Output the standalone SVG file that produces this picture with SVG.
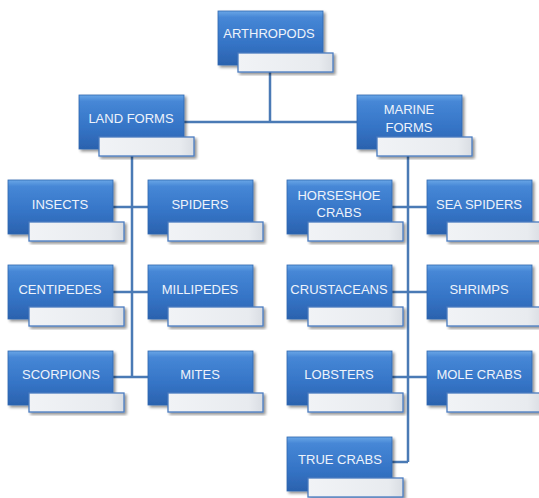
<svg xmlns="http://www.w3.org/2000/svg" width="539" height="498" viewBox="0 0 539 498">
<defs>
<linearGradient id="blue" x1="0" y1="0" x2="0" y2="1">
<stop offset="0" stop-color="#6aa6e6"/>
<stop offset="0.12" stop-color="#4687d6"/>
<stop offset="0.6" stop-color="#3574c6"/>
<stop offset="1" stop-color="#2b62ae"/>
</linearGradient>
<linearGradient id="lab" x1="0" y1="0" x2="1" y2="0">
<stop offset="0" stop-color="#f1f3f6"/>
<stop offset="0.85" stop-color="#e8ebef"/>
<stop offset="1" stop-color="#d9dde3"/>
</linearGradient>
<filter id="sh" x="-10%" y="-10%" width="125%" height="130%">
<feGaussianBlur in="SourceAlpha" stdDeviation="1.5"/>
<feOffset dx="1.5" dy="2" result="b"/>
<feComponentTransfer><feFuncA type="linear" slope="0.45"/></feComponentTransfer>
<feMerge><feMergeNode/><feMergeNode in="SourceGraphic"/></feMerge>
</filter>
</defs>
<style>
.box{fill:url(#blue);stroke:#2f66b0;stroke-width:0.8;filter:url(#sh)}
.lab{fill:url(#lab);stroke:#4a7cc0;stroke-width:1.3;filter:url(#sh)}
.t{font-family:"Liberation Sans",Arial,sans-serif;font-size:13px;fill:#eef3fb;text-anchor:middle}
.c{fill:none;stroke:#4a7ab5;stroke-width:2.5}
</style>
<rect width="539" height="498" fill="#ffffff"/>
<g id="connectors">
<path class="c" d="M270 70V122M183 122H357"/>
<path class="c" d="M132 155V377M113 207H148M113 292H148M113 377H148"/>
<path class="c" d="M408 155V462M392 207H427M392 292H427M392 377H427M392 462H408"/>
</g>
<g id="arthropods"><rect class="box" x="218" y="11" width="105" height="54"/><rect class="lab" x="238" y="53" width="95" height="19"/><text class="t" x="269" y="38">ARTHROPODS</text></g>
<g id="land-forms"><rect class="box" x="79" y="95" width="105" height="54"/><rect class="lab" x="99" y="137" width="95" height="19"/><text class="t" x="131" y="123">LAND FORMS</text></g>
<g id="marine-forms"><rect class="box" x="357" y="95" width="105" height="54"/><rect class="lab" x="377" y="137" width="95" height="19"/><text class="t" x="409" y="114">MARINE</text><text class="t" x="409" y="132">FORMS</text></g>
<g id="insects"><rect class="box" x="8" y="180" width="105" height="54"/><rect class="lab" x="29" y="222" width="95" height="19"/><text class="t" x="60" y="209">INSECTS</text></g>
<g id="spiders"><rect class="box" x="148" y="180" width="105" height="54"/><rect class="lab" x="168" y="222" width="95" height="19"/><text class="t" x="200" y="209">SPIDERS</text></g>
<g id="centipedes"><rect class="box" x="8" y="265" width="105" height="54"/><rect class="lab" x="29" y="307" width="95" height="19"/><text class="t" x="60" y="294">CENTIPEDES</text></g>
<g id="millipedes"><rect class="box" x="148" y="265" width="105" height="54"/><rect class="lab" x="168" y="307" width="95" height="19"/><text class="t" x="200" y="294">MILLIPEDES</text></g>
<g id="scorpions"><rect class="box" x="8" y="351" width="105" height="54"/><rect class="lab" x="29" y="393" width="95" height="19"/><text class="t" x="61" y="379">SCORPIONS</text></g>
<g id="mites"><rect class="box" x="148" y="351" width="105" height="54"/><rect class="lab" x="168" y="393" width="95" height="19"/><text class="t" x="200" y="379">MITES</text></g>
<g id="horseshoe-crabs"><rect class="box" x="287" y="180" width="105" height="54"/><rect class="lab" x="308" y="222" width="95" height="19"/><text class="t" x="339" y="200">HORSESHOE</text><text class="t" x="339" y="217">CRABS</text></g>
<g id="sea-spiders"><rect class="box" x="427" y="180" width="105" height="54"/><rect class="lab" x="447" y="222" width="95" height="19"/><text class="t" x="479" y="209">SEA SPIDERS</text></g>
<g id="crustaceans"><rect class="box" x="287" y="265" width="105" height="54"/><rect class="lab" x="308" y="307" width="95" height="19"/><text class="t" x="339" y="294">CRUSTACEANS</text></g>
<g id="shrimps"><rect class="box" x="427" y="265" width="105" height="54"/><rect class="lab" x="447" y="307" width="95" height="19"/><text class="t" x="479" y="294">SHRIMPS</text></g>
<g id="lobsters"><rect class="box" x="287" y="351" width="105" height="54"/><rect class="lab" x="308" y="393" width="95" height="19"/><text class="t" x="339" y="379">LOBSTERS</text></g>
<g id="mole-crabs"><rect class="box" x="427" y="351" width="105" height="54"/><rect class="lab" x="447" y="393" width="95" height="19"/><text class="t" x="479" y="379">MOLE CRABS</text></g>
<g id="true-crabs"><rect class="box" x="287" y="437" width="105" height="54"/><rect class="lab" x="308" y="478" width="95" height="19"/><text class="t" x="340" y="464">TRUE CRABS</text></g>
</svg>
